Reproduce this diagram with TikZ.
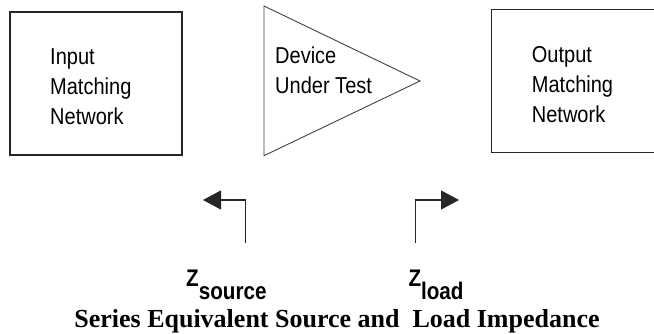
\documentclass[tikz,border=0pt]{standalone}
\usepackage{fontspec}
\setmainfont{Liberation Serif}
\newfontfamily\lblfont[FakeStretch=0.87]{Liberation Sans}
\newfontfamily\zfont[FakeStretch=0.86]{Liberation Sans}
\usetikzlibrary{positioning,arrows.meta}

\begin{document}
\begin{tikzpicture}[x=1pt,y=-1pt,
        netbox/.style={draw=black!85,line width=1.4pt,inner sep=0pt},
        lbl/.style={align=left,anchor=base west,inner sep=0pt,font=\lblfont\fontsize{23}{30}\selectfont},
        zlbl/.style={anchor=base west,inner sep=0pt,font=\zfont\bfseries\fontsize{24}{24}\selectfont},
        imparrow/.style={draw=black!85,line width=1.3pt,-{Triangle[length=18pt,width=19pt]}}]
        \clip (0,0) rectangle (654,334);
        % matching networks and the device
        \node[netbox,minimum width=172pt,minimum height=143pt] (inbox) at (96,83.5) {};
        \node[netbox,minimum width=200pt,minimum height=143.4pt] (outbox) at (591.7,81) {};
        \draw[black!75,line width=0.9pt] (264,6) coordinate (dutA) -- (420,81) coordinate (dutB) -- (264,155.7) coordinate (dutC) -- cycle;
        % labels, placed by the baseline of their last line
        \node[lbl] (intxt) at (50,125) {Input\\Matching\\Network};
        \node[lbl] (duttxt) at (275,93.3) {Device\\Under Test};
        \node[lbl] (outtxt) at (531.7,123) {Output\\Matching\\Network};
        % impedance arrows
        \coordinate (srcbot) at (245.7,243);
        \coordinate (srctip) at (203,200);
        \coordinate (ldbot) at (415.7,243);
        \coordinate (ldtip) at (459,200);
        \draw[imparrow] (srcbot) |- (srctip);
        \draw[imparrow] (ldbot) |- (ldtip);
        \node[zlbl] (zsrc) at (186,287) {Z\raisebox{-13pt}{source}};
        \node[zlbl] (zld) at (408.3,287) {Z\raisebox{-13pt}{load}};
        \node[anchor=base,inner sep=0pt,font=\bfseries\fontsize{26}{26}\selectfont] (cap) at (337,327) {Series Equivalent Source and\ \ Load Impedance};
    \end{tikzpicture}
\end{document}
